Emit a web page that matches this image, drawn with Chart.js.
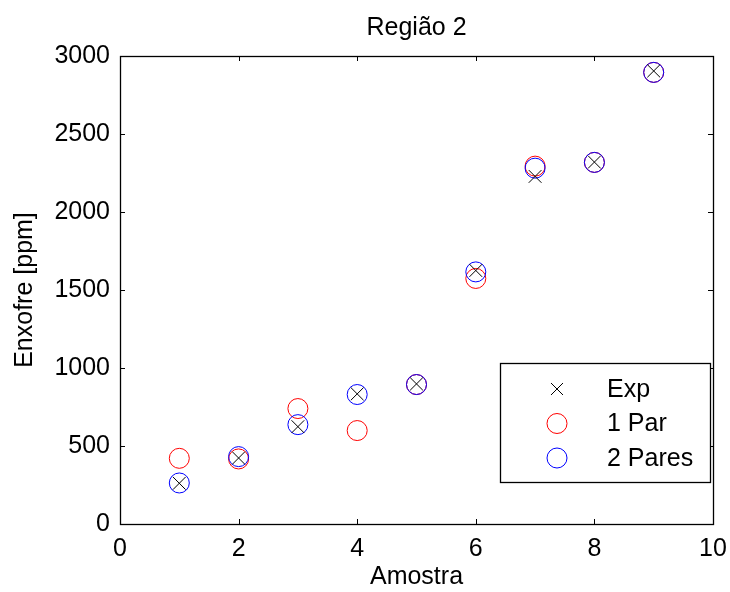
<!DOCTYPE html>
<html>
<head>
<meta charset="utf-8">
<script src="https://cdn.jsdelivr.net/npm/chart.js@4"></script>
<style>
  html, body { margin: 0; padding: 0; background: #fff; }
  #wrap { width: 730px; height: 592px; }
</style>
</head>
<body>
<div id="wrap"><canvas id="c" width="730" height="592"></canvas></div>
<script>
const amostras = [1, 2, 3, 4, 5, 6, 7, 8, 9];
const exp     = [261, 423, 624, 834, 898, 1625, 2228, 2320, 2904];
const umPar   = [421, 417, 740, 599, 894, 1574, 2294, 2318, 2895];
const doisPar = [263, 432, 637, 830, 894, 1616, 2281, 2318, 2895];
const xTicks = [0, 2, 4, 6, 8, 10];
const yTicks = [0, 500, 1000, 1500, 2000, 2500, 3000];

const FONT = "'Liberation Sans', Arial, sans-serif";
const FS = 25;

function pts(ys) { return amostras.map((x, i) => ({ x: x, y: ys[i] })); }

const boxTicks = {
  id: 'boxTicks',
  afterDraw(chart) {
    const { ctx, chartArea: a, scales } = chart;
    ctx.save();
    ctx.strokeStyle = '#000';
    ctx.lineWidth = 1.3;
    ctx.strokeRect(a.left + 0.5, a.top + 0.5, a.right - a.left, a.bottom - a.top);
    const L = 5;
    ctx.lineWidth = 1;
    ctx.beginPath();
    xTicks.forEach(v => {
      const px = Math.round(scales.x.getPixelForValue(v)) + 0.5;
      ctx.moveTo(px, a.bottom); ctx.lineTo(px, a.bottom - L);
      ctx.moveTo(px, a.top); ctx.lineTo(px, a.top + L);
    });
    yTicks.forEach(v => {
      const py = Math.round(scales.y.getPixelForValue(v)) + 0.5;
      ctx.moveTo(a.left, py); ctx.lineTo(a.left + L, py);
      ctx.moveTo(a.right, py); ctx.lineTo(a.right - L, py);
    });
    ctx.stroke();

    // legend box inside plot area (bottom right)
    const w = 210, h = 119;
    const lx = a.right - 3 - w, ly = a.bottom - 42 - h;
    ctx.fillStyle = '#fff';
    ctx.fillRect(lx, ly, w, h);
    ctx.strokeStyle = '#000';
    ctx.lineWidth = 1.3;
    ctx.strokeRect(Math.round(lx) + 0.5, Math.round(ly) + 0.5, w, h);
    ctx.font = FS + 'px ' + FONT;
    ctx.textBaseline = 'middle';
    ctx.textAlign = 'left';
    chart.data.datasets.forEach((ds, i) => {
      const cy = ly + 26 + i * 34.5;
      const mx = lx + 57;
      ctx.strokeStyle = ds.borderColor;
      ctx.lineWidth = 1;
      ctx.beginPath();
      if (ds.pointStyle === 'crossRot') {
        const r = 6;
        ctx.moveTo(mx - r, cy - r); ctx.lineTo(mx + r, cy + r);
        ctx.moveTo(mx + r, cy - r); ctx.lineTo(mx - r, cy + r);
      } else {
        ctx.ellipse(mx, cy, 10, 10, 0, 0, Math.PI * 2);
      }
      ctx.stroke();
      ctx.fillStyle = '#000';
      ctx.fillText(ds.label, lx + 107, cy + 1);
    });
    ctx.restore();
  }
};

new Chart(document.getElementById('c'), {
  type: 'scatter',
  data: {
    datasets: [
      { label: 'Exp', order: 0, data: pts(exp), pointStyle: 'crossRot', radius: 9, borderColor: '#000', backgroundColor: 'rgba(0,0,0,0)', borderWidth: 1 },
      { label: '1 Par', order: 2, data: pts(umPar), pointStyle: 'circle', radius: 10, borderColor: '#ff0000', backgroundColor: 'rgba(0,0,0,0)', borderWidth: 1 },
      { label: '2 Pares', order: 1, data: pts(doisPar), pointStyle: 'circle', radius: 10, borderColor: '#0000ff', backgroundColor: 'rgba(0,0,0,0)', borderWidth: 1 }
    ]
  },
  options: {
    responsive: false,
    animation: false,
    layout: { padding: { left: 0, right: 17, top: 0, bottom: 0 } },
    plugins: {
      legend: { display: false },
      tooltip: { enabled: false },
      title: {
        display: true, text: 'Região 2', color: '#000', fullSize: false,
        font: { family: FONT, size: FS, weight: 'normal' },
        padding: { top: 13, bottom: 13 }
      }
    },
    scales: {
      x: {
        type: 'linear', min: 0, max: 10,
        afterBuildTicks(s) { s.ticks = xTicks.map(v => ({ value: v })); },
        afterFit(s) { s.height = 68; s.paddingLeft = 0; s.paddingRight = 0; },
        grid: { display: false, drawTicks: false },
        border: { display: false },
        ticks: { color: '#000', font: { family: FONT, size: FS }, padding: 10, maxRotation: 0 },
        title: { display: true, text: 'Amostra', color: '#000', font: { family: FONT, size: FS }, padding: { top: 0, bottom: 0 } }
      },
      y: {
        type: 'linear', min: 0, max: 3000,
        afterBuildTicks(s) { s.ticks = yTicks.map(v => ({ value: v })); },
        afterFit(s) { s.width = 120; s.paddingTop = 0; s.paddingBottom = 0; },
        grid: { display: false, drawTicks: false },
        border: { display: false },
        ticks: { color: '#000', font: { family: FONT, size: FS }, padding: 10, callback: v => String(v) },
        title: { display: true, text: 'Enxofre [ppm]', color: '#000', font: { family: FONT, size: FS }, padding: { top: 10, bottom: 0 } }
      }
    }
  },
  plugins: [boxTicks]
});
</script>
</body>
</html>
